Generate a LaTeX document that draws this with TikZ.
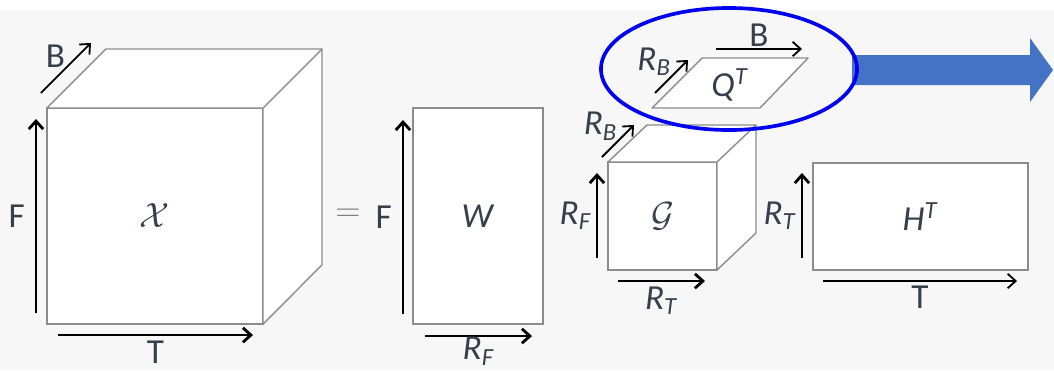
\documentclass[tikz,border=0pt]{standalone}
\usepackage{fontspec}
\setmainfont{Carlito}
\usetikzlibrary{arrows.meta, positioning, calc, shapes.geometric}
\definecolor{inkedge}{HTML}{8C8C8C}
\definecolor{inktext}{HTML}{36404C}
\definecolor{inkpaper}{HTML}{F7F7F7}
\definecolor{inkring}{HTML}{0000F0}
\definecolor{inkflow}{HTML}{4472C4}
\newcommand{\rk}[1]{\textit{R}\textsubscript{\textit{#1}}}
\newcommand{\tp}[1]{\textit{#1}\textsuperscript{\textit{T}}}

\begin{document}
\begin{tikzpicture}[x=0.025cm, y=-0.025cm,
    >={Straight Barb[length=2mm, width=3.6mm]},
    every node/.style={text=inktext, font=\fontsize{25}{30}\selectfont, inner sep=3pt},
    front/.style={draw=inkedge, line width=1pt, fill=white,
                  inner sep=0pt, outer sep=0pt},
    shell/.style={draw=inkedge, line width=1pt, fill=white, line join=round},
    dimthick/.style={->, line width=2pt},
    dimthin/.style={->, line width=1.3pt},
    ring/.style={ellipse, draw=inkring, line width=2.6pt,
                 minimum width=6.4cm, minimum height=3.05cm}]
    \useasboundingbox (0,0) rectangle (1054,370);
    \fill[inkpaper] (0,10) rectangle (1054,370);

    % the data tensor
    \node[front, minimum width=5.4cm, minimum height=5.4cm] (X) at (155,216) {$\mathcal{X}$};
    \draw[shell] (X.north west) -- ++(59,-59) -- ++(216,0) -- ++(0,216)
      -- (X.south east) -- (X.north east) -- cycle;
    \draw[shell] (X.north east) -- ++(59,-59);
    \draw[dimthick] ($(X.south west)+(-11,-11)$) -- node[left, xshift=-4pt] {F} ($(X.north west)+(-11,11)$);
    \draw[dimthick] ($(X.south west)+(11,11)$) -- node[below] {T} ($(X.south east)+(-10,11)$);
    \draw[dimthin] ($(X.north west)+(-6,-15)$) -- node[above left, inner sep=0pt] {B} ($(X.north west)+(44,-65)$);

    % W factor
    \node[text=gray] (eq) at (348,215) {$=$};
    \node[front, minimum width=3.25cm, minimum height=5.4cm] (W) at (478,216) {\textit{W}};
    \draw[dimthick] ($(W.south west)+(-10,-10)$) -- node[left, xshift=-4pt] {F} ($(W.north west)+(-10,12)$);
    \draw[dimthick] ($(W.south west)+(12,12)$) -- node[below, inner sep=0pt] {\rk{F}} ($(W.south east)+(-11,12)$);

    % core tensor
    \node[front, minimum width=2.725cm, minimum height=2.7cm] (G) at (662.5,216) {$\mathcal{G}$};
    \draw[shell] (G.north west) -- ++(39,-37) -- ++(109,0) -- ++(0,108)
      -- (G.south east) -- (G.north east) -- cycle;
    \draw[shell] (G.north east) -- ++(39,-37);
    \draw[dimthick] ($(G.south west)+(-11,-12)$) -- node[left] {\rk{F}} ($(G.north west)+(-11,11)$);
    \draw[dimthick] ($(G.south west)+(10,11)$) -- node[below] {\rk{T}} ($(G.south east)+(-12,11)$);
    \draw[dimthin] ($(G.north west)+(-6,-5)$) -- node[above left, inner sep=0pt] {\rk{B}} ($(G.north west)+(26,-37)$);

    % Q factor
    \draw[shell] (652,108) coordinate (qsw) -- (760,108) coordinate (qse)
      -- (808,58) coordinate (qne) -- (702,58) coordinate (qnw) -- cycle;
    \node (Q) at (730,85) {\tp{Q}};
    \draw[dimthin] ($(qsw)+(3,-15)$) -- node[above left, inner sep=0pt] {\rk{B}} ($(qsw)+(36,-48)$);
    \draw[dimthin] ($(qnw)+(14,-9)$) -- node[above, inner sep=1pt] {B} ($(qne)+(-6,-9)$);

    % highlight and flow
    \coordinate (tail) at (852,70);
    \coordinate (tip) at (1053,70);
    \fill[inkflow] ($(tail)+(0,-15)$) -- ($(tip)+(-23,-15)$) -- ($(tip)+(-23,-32)$)
      -- (tip) -- ($(tip)+(-23,32)$) -- ($(tip)+(-23,15)$) -- ($(tail)+(0,15)$) -- cycle;
    \node[ring] (halo) at (729,69) {};

    % H factor
    \node[front, minimum width=5.375cm, minimum height=2.675cm] (H) at (920.5,216.5) {\tp{H}};
    \draw[dimthick] ($(H.south west)+(-11,-12)$) -- node[left] {\rk{T}} ($(H.north west)+(-11,10)$);
    \draw[dimthin] ($(H.south west)+(10,11)$) -- node[below] {T} ($(H.south east)+(-11,11)$);
\end{tikzpicture}
\end{document}
